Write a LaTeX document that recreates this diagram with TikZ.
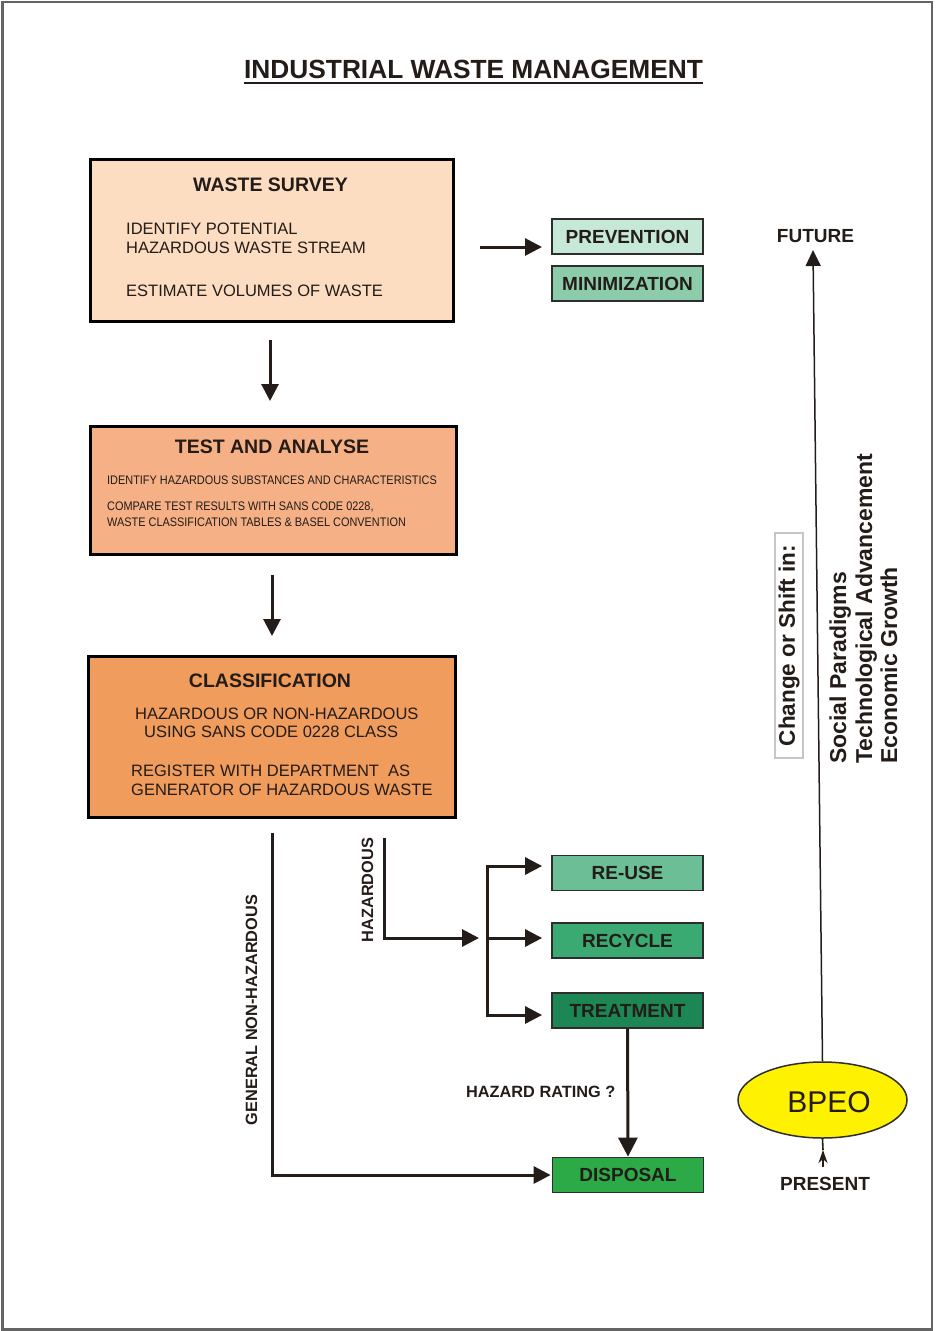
\documentclass[tikz,border=0pt]{standalone}
\usepackage{fontspec}
\setmainfont{Liberation Sans}
\newfontfamily\condfont[FakeStretch=0.88]{Liberation Sans}
\usetikzlibrary{arrows.meta,shapes.geometric}
\newcommand\myfs[1]{\fontsize{#1}{#1}\selectfont}
\definecolor{ink}{RGB}{35,28,24}
\definecolor{surveyfill}{RGB}{252,221,194}
\definecolor{testfill}{RGB}{245,176,134}
\definecolor{classfill}{RGB}{240,156,92}
\definecolor{prevfill}{RGB}{198,232,214}
\definecolor{minifill}{RGB}{140,204,170}
\definecolor{reusefill}{RGB}{108,190,150}
\definecolor{recyclefill}{RGB}{58,170,114}
\definecolor{treatfill}{RGB}{28,134,84}
\definecolor{disposalfill}{RGB}{44,170,72}
\definecolor{bpeoyellow}{RGB}{255,242,0}
\definecolor{boxedge}{RGB}{45,45,45}
\definecolor{framegray}{RGB}{100,100,100}
\begin{document}
\begin{tikzpicture}[x=1pt,y=-1pt,
  txt/.style={inner sep=0pt, text=ink},
  bigbox/.style={draw=black, line width=2.6pt, inner sep=0pt, anchor=north west},
  gbox/.style={draw=boxedge, line width=1.8pt, inner sep=0pt, minimum width=151pt, minimum height=35pt, font=\bfseries\myfs{19}, text=ink},
  arr/.style={line width=3pt, draw=ink, -{Triangle[length=17pt,width=17pt]}},
  thinarr/.style={line width=1.5pt, draw=ink, -{Triangle[length=16pt,width=15pt]}},
  plain/.style={line width=3pt, draw=ink}
]
\useasboundingbox (0,0) rectangle (935,1331);
\draw[draw=framegray, line width=2.4pt] (2.5,2) rectangle (932,1329.5);

% title
\node[txt, anchor=base, font=\bfseries\myfs{26.3}] (title) at (473.5,78) {INDUSTRIAL WASTE MANAGEMENT};
\draw[line width=2pt, ink] ([yshift=-4.5pt]title.base west) -- ([yshift=-4.5pt]title.base east);

% waste survey
\node[bigbox, fill=surveyfill, minimum width=363pt, minimum height=162pt] (survey) at (89,158) {};
\node[txt, anchor=base, font=\bfseries\myfs{19.5}] (surveyt) at (270.5,191) {WASTE SURVEY};
\node[txt, anchor=base west, font=\myfs{16.5}] (sv1) at (126,234) {IDENTIFY POTENTIAL};
\node[txt, anchor=base west, font=\myfs{16.5}] (sv2) at (126,253) {HAZARDOUS WASTE STREAM};
\node[txt, anchor=base west, font=\myfs{16.5}] (sv3) at (126,296) {ESTIMATE VOLUMES OF WASTE};

% prevention / minimization
\node[gbox, fill=prevfill] (prevention) at (627.5,236.5) {PREVENTION};
\node[gbox, fill=minifill] (minimization) at (627.5,283.5) {MINIMIZATION};
\coordinate (a1s) at (480,247);
\coordinate (a1e) at (542,247);
\draw[arr] (a1s) -- (a1e);

% arrow down 1
\coordinate (d1s) at (270,340);
\coordinate (d1e) at (270,401);
\draw[arr] (d1s) -- (d1e);

% test and analyse
\node[bigbox, fill=testfill, minimum width=366pt, minimum height=128pt] (test) at (89,425) {};
\node[txt, anchor=base, font=\bfseries\myfs{19.5}] (testt) at (272,453) {TEST AND ANALYSE};
\node[txt, anchor=base west, font=\condfont\myfs{12.4}] (ts1) at (107,484.5) {IDENTIFY HAZARDOUS SUBSTANCES AND CHARACTERISTICS};
\node[txt, anchor=base west, font=\condfont\myfs{12.4}] (ts2) at (107,510.5) {COMPARE TEST RESULTS WITH SANS CODE 0228,};
\node[txt, anchor=base west, font=\condfont\myfs{12.4}] (ts3) at (107,526.5) {WASTE CLASSIFICATION TABLES \& BASEL CONVENTION};

% arrow down 2
\coordinate (d2s) at (272,575);
\coordinate (d2e) at (272,636);
\draw[arr] (d2s) -- (d2e);

% classification
\node[bigbox, fill=classfill, minimum width=367pt, minimum height=161pt] (class) at (87,655) {};
\node[txt, anchor=base, font=\bfseries\myfs{19.5}] (classt) at (270,687) {CLASSIFICATION};
\node[txt, anchor=base west, font=\myfs{16.5}] (cl1) at (135,719) {HAZARDOUS OR NON-HAZARDOUS};
\node[txt, anchor=base west, font=\myfs{16.5}] (cl2) at (144,737) {USING SANS CODE 0228 CLASS};
\node[txt, anchor=base west, font=\myfs{16.5}] (cl3) at (131,776) {REGISTER WITH DEPARTMENT\ \ AS};
\node[txt, anchor=base west, font=\myfs{16.5}] (cl4) at (131,795) {GENERATOR OF HAZARDOUS WASTE};

% green boxes
\node[gbox, fill=reusefill] (reuse) at (627.5,873) {RE-USE};
\node[gbox, fill=recyclefill] (recycle) at (627.5,940.5) {RECYCLE};
\node[gbox, fill=treatfill] (treatment) at (627.5,1010.5) {TREATMENT};
\node[gbox, fill=disposalfill] (disposal) at (628,1175) {DISPOSAL};

% general non-hazardous
\coordinate (nh) at (272,833);
\draw[arr] (nh) |- ([xshift=-1pt]disposal.west);
\node[txt, rotate=90, anchor=base, font=\bfseries\myfs{16.3}] (nhlbl) at (257,1010) {GENERAL NON-HAZARDOUS};

% hazardous
\coordinate (hz) at (384,838);
\coordinate (hzend) at (479,938);
\draw[arr] (hz) |- (hzend);
\node[txt, rotate=90, anchor=base, font=\bfseries\myfs{16.3}] (hzlbl) at (373,890) {HAZARDOUS};

% branch
\coordinate (br1) at (487,866);
\coordinate (br2) at (487,938);
\coordinate (br3) at (487,1015);
\draw[plain] ([yshift=1.5pt]br1) -- ([yshift=-1.5pt]br3);
\draw[arr, shorten >=9pt] (br1) -- (br1 -| reuse.west);
\draw[arr, shorten >=9pt] (br2) -- (br2 -| recycle.west);
\draw[arr, shorten >=9pt] (br3) -- (br3 -| treatment.west);

% treatment to disposal
\draw[arr, -{Triangle[length=19pt,width=19pt]}] (treatment.south) -- (disposal.north);
\node[txt, anchor=base west, font=\bfseries\myfs{16.3}] (hr) at (466,1097) {HAZARD RATING ?};

% BPEO
\node[ellipse, draw=boxedge, line width=1.5pt, fill=bpeoyellow, minimum width=169pt, minimum height=76pt, inner sep=0pt] (bpeo) at (822.5,1100) {};
\node[txt, anchor=base, font=\myfs{30}] (bpeotxt) at (829,1112) {BPEO};
\coordinate (fut) at (813,250);
\draw[thinarr] (bpeo.north) -- (fut);
\node[txt, anchor=base, font=\bfseries\myfs{19}] (future) at (815.5,242) {FUTURE};
\coordinate (pr1) at (823,1167);
\coordinate (pr2) at (823,1150);
\draw[line width=1.6pt, ink, -{Stealth[length=13pt,width=9pt,inset=4pt]}] (pr1) -- (pr2);
\draw[line width=1.6pt, ink] (pr2) -- (bpeo.south);
\node[txt, anchor=base, font=\bfseries\myfs{19}] (present) at (825,1190) {PRESENT};

% change or shift
\node[draw=gray!45, line width=1.2pt, rotate=90, minimum width=225pt, minimum height=28pt, inner sep=0pt, text=ink, font=\bfseries\myfs{22.5}] (change) at (789,645.5) {Change or Shift in:};
\node[txt, rotate=90, anchor=base west, font=\bfseries\myfs{23}] (soc) at (846,764) {Social Paradigms};
\node[txt, rotate=90, anchor=base west, font=\bfseries\myfs{23}] (tech) at (872,764) {Technological Advancement};
\node[txt, rotate=90, anchor=base west, font=\bfseries\myfs{23}] (econ) at (897,764) {Economic Growth};
\end{tikzpicture}
\end{document}
